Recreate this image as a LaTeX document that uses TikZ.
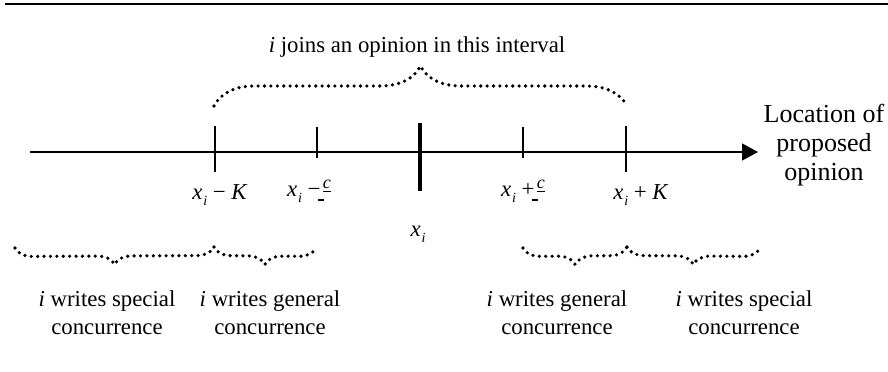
\documentclass[tikz,border=0pt]{standalone}
\usepackage{fontspec}
\setmainfont{Liberation Serif}
\usetikzlibrary{arrows.meta,decorations.pathreplacing}

\newcommand{\xlab}{\textit{x}\kern0.4pt\raisebox{-0.6ex}{\scriptsize\textit{i}}}
\newcommand{\chalf}{\kern-1.2pt\raisebox{-0.45ex}{\rule{3pt}{0.7pt}}%
  \kern-0.6pt\raisebox{0.75ex}{\underline{\small\textit{c}}}}

\begin{document}
\begin{tikzpicture}[x=0.5pt, y=-0.5pt,
    font=\fontsize{11.4}{14}\selectfont,
    lbl/.style={inner sep=0pt, align=center},
    tickln/.style={line width=1pt},
    axisln/.style={line width=1pt},
    dotbrace/.style={decorate, line width=1.8pt, line cap=round,
      dash pattern=on 0pt off 3.2pt},
  ]
  \useasboundingbox (0,0) rectangle (888,371);

  % rule along the top
  \coordinate (rule0) at (5,4);
  \coordinate (rule1) at (888,4);
  \draw[line width=1.1pt] (rule0) -- (rule1);

  % axis
  \coordinate (ax0) at (30,152);
  \coordinate (axm) at (458,152);
  \coordinate (ax1) at (758,152);
  \draw[axisln] (ax0) -- (axm);
  \draw[line width=0.7pt, -{Triangle[length=8pt,width=8.5pt]}] (axm) -- (ax1);
  \node[lbl, font=\fontsize{13}{14.5}\selectfont] (loc) at (824,145)
    {Location of\\proposed\\opinion};

  % ticks
  \coordinate (kLt) at (215,126); \coordinate (kLb) at (215,172);
  \coordinate (cLt) at (317,127); \coordinate (cLb) at (317,158);
  \coordinate (xit) at (420,123); \coordinate (xib) at (420,191);
  \coordinate (cRt) at (523,127); \coordinate (cRb) at (523,158);
  \coordinate (kRt) at (626,126); \coordinate (kRb) at (626,172);
  \draw[tickln] (kLt) -- (kLb);
  \draw[tickln] (cLt) -- (cLb);
  \draw[line width=1.7pt] (xit) -- (xib);
  \draw[tickln] (cRt) -- (cRb);
  \draw[tickln] (kRt) -- (kRb);

  % tick labels
  \node[lbl] (lKm) at (220,195) {\xlab\ − \textit{K}};
  \node[lbl] (lcm) at (309,191) {\xlab\ −\chalf};
  \node[lbl] (lxi) at (418,234) {\xlab};
  \node[lbl] (lcp) at (523,191) {\xlab\ +\chalf};
  \node[lbl] (lKp) at (641,195) {\xlab\ + \textit{K}};

  % interval brace
  \coordinate (jL) at (214,106);
  \coordinate (jR) at (627,106);
  \draw[dotbrace, decoration={brace, amplitude=20pt}] (jL) -- (jR);
  \node[lbl] (join) at (417,47) {\textit{i} joins an opinion in this interval};

  % lower braces
  \coordinate (sL0) at (15,248);
  \coordinate (sL1) at (214,247);
  \coordinate (gL1) at (316,248);
  \coordinate (gR0) at (523,248);
  \coordinate (gR1) at (627,247);
  \coordinate (sR1) at (760,248);
  \draw[dotbrace, decoration={brace, mirror, amplitude=8.5pt}] (sL0) -- (sL1);
  \draw[dotbrace, decoration={brace, mirror, amplitude=8.5pt}] (sL1) -- (gL1);
  \draw[dotbrace, decoration={brace, mirror, amplitude=8.5pt}] (gR0) -- (gR1);
  \draw[dotbrace, decoration={brace, mirror, amplitude=8.5pt}] (gR1) -- (sR1);

  \node[lbl] (wsL) at (107,313) {\textit{i} writes special\\concurrence};
  \node[lbl] (wgL) at (270,313) {\textit{i} writes general\\concurrence};
  \node[lbl] (wgR) at (557,313) {\textit{i} writes general\\concurrence};
  \node[lbl] (wsR) at (744,313) {\textit{i} writes special\\concurrence};
\end{tikzpicture}
\end{document}
